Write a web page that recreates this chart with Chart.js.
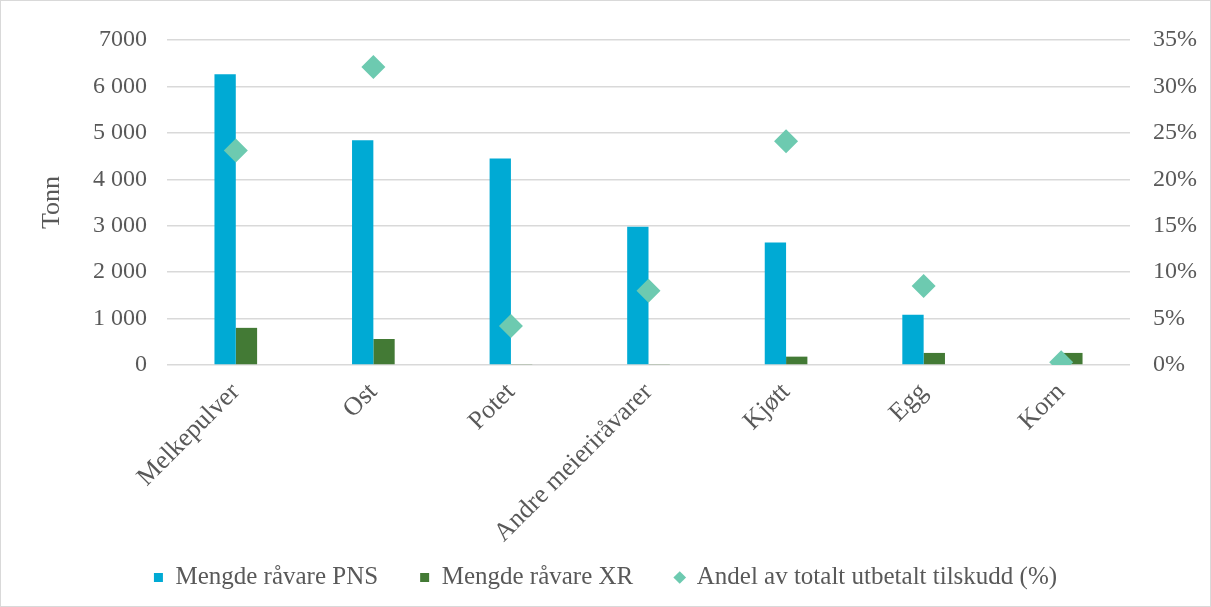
<!DOCTYPE html>
<html>
<head>
<meta charset="utf-8">
<script src="https://cdn.jsdelivr.net/npm/chart.js@4.4.1/dist/chart.umd.min.js"></script>
<style>
  html, body { margin: 0; padding: 0; background: #fff; }
  .wrap { position: relative; width: 1211px; height: 607px; box-sizing: border-box; border: 1px solid #d9d9d9; }
</style>
</head>
<body>
<div class="wrap"><canvas id="myChart" width="1209" height="605"></canvas></div>
<script>
// data
const categories = ['Melkepulver', 'Ost', 'Potet', 'Andre meieriråvarer', 'Kjøtt', 'Egg', 'Korn'];
const pnsValues = [6260, 4840, 4450, 2980, 2640, 1080, 0];
const xrValues = [800, 560, 20, 20, 180, 260, 260];
const shareValues = [23.1, 32.1, 4.2, 8.0, 24.1, 8.5, 0.3];
const leftTickLabels = {0: '0', 1000: '1 000', 2000: '2 000', 3000: '3 000', 4000: '4 000', 5000: '5 000', 6000: '6 000', 7000: '7000'};

const tickColor = '#595959';
const serif = "'Liberation Serif', 'DejaVu Serif', serif";

const data = {
    labels: categories,
    datasets: [{
        type: 'bar',
        label: 'Mengde råvare PNS',
        data: pnsValues,
        backgroundColor: '#00AAD4',
        yAxisID: 'y',
        order: 2
    }, {
        type: 'bar',
        label: 'Mengde råvare XR',
        data: xrValues,
        backgroundColor: '#437A35',
        yAxisID: 'y',
        order: 2
    }, {
        type: 'line',
        label: 'Andel av totalt utbetalt tilskudd (%)',
        data: shareValues,
        showLine: false,
        pointStyle: 'rectRot',
        pointRadius: 12,
        pointHoverRadius: 12,
        backgroundColor: '#6DCAB0',
        borderColor: '#6DCAB0',
        borderWidth: 0,
        yAxisID: 'y1',
        order: 1
    }]
};

// legend padding is also used vertically: reserve a short box, then stretch its top up
const legendBox = {
    id: 'legendBox',
    beforeLayout(chart) {
        const lg = chart.legend;
        if (lg && !lg._fixed) {
            const fit = lg.fit;
            lg.fit = function () { fit.call(this); this.height = 52; };
            lg._fixed = true;
        }
    },
    afterLayout(chart) {
        chart.legend.top -= 27;
        chart.legend.height += 27;
    }
};

const config = {
    type: 'bar',
    data: data,
    plugins: [legendBox],
    options: {
        responsive: false,
        animation: false,
        categoryPercentage: 0.31,
        barPercentage: 1,
        layout: {
            padding: {top: 39, bottom: 4, left: 0, right: 0}
        },
        scales: {
            x: {
                grid: { display: false },
                border: { display: false },
                ticks: {
                    color: tickColor,
                    minRotation: 45,
                    maxRotation: 45,
                    padding: 4,
                    font: { family: serif, size: 26 }
                },
                afterFit: (scale) => { scale.height = 185; }
            },
            y: {
                position: 'left',
                min: 0,
                max: 7000,
                ticks: {
                    stepSize: 1000,
                    color: tickColor,
                    padding: 20,
                    font: { family: serif, size: 24 },
                    callback: (v) => leftTickLabels[v]
                },
                grid: { color: '#d9d9d9', lineWidth: 1.5, drawTicks: false },
                border: { display: false },
                title: {
                    display: true,
                    text: 'Tonn',
                    color: tickColor,
                    padding: { top: 36, bottom: 0 },
                    font: { family: serif, size: 26 }
                },
                afterFit: (scale) => { scale.width = 166; }
            },
            y1: {
                position: 'right',
                min: 0,
                max: 35,
                ticks: {
                    stepSize: 5,
                    color: tickColor,
                    padding: 15,
                    font: { family: serif, size: 24 },
                    callback: (v) => v + '%'
                },
                grid: { display: false },
                border: { display: false },
                afterFit: (scale) => { scale.width = 80; }
            }
        },
        plugins: {
            legend: {
                position: 'bottom',
                labels: {
                    usePointStyle: true,
                    boxWidth: 9,
                    boxHeight: 9,
                    padding: 42,
                    color: tickColor,
                    font: { family: serif, size: 25 },
                    generateLabels: (chart) => chart.data.datasets.map((ds, i) => ({
                        text: ds.label,
                        fillStyle: ds.backgroundColor,
                        strokeStyle: ds.backgroundColor,
                        lineWidth: 0,
                        pointStyle: i === 2 ? 'rectRot' : 'rect',
                        fontColor: tickColor,
                        datasetIndex: i
                    }))
                }
            },
            tooltip: { enabled: false }
        }
    }
};

// render init block
const myChart = new Chart(
    document.getElementById('myChart'),
    config
);
</script>
</body>
</html>
